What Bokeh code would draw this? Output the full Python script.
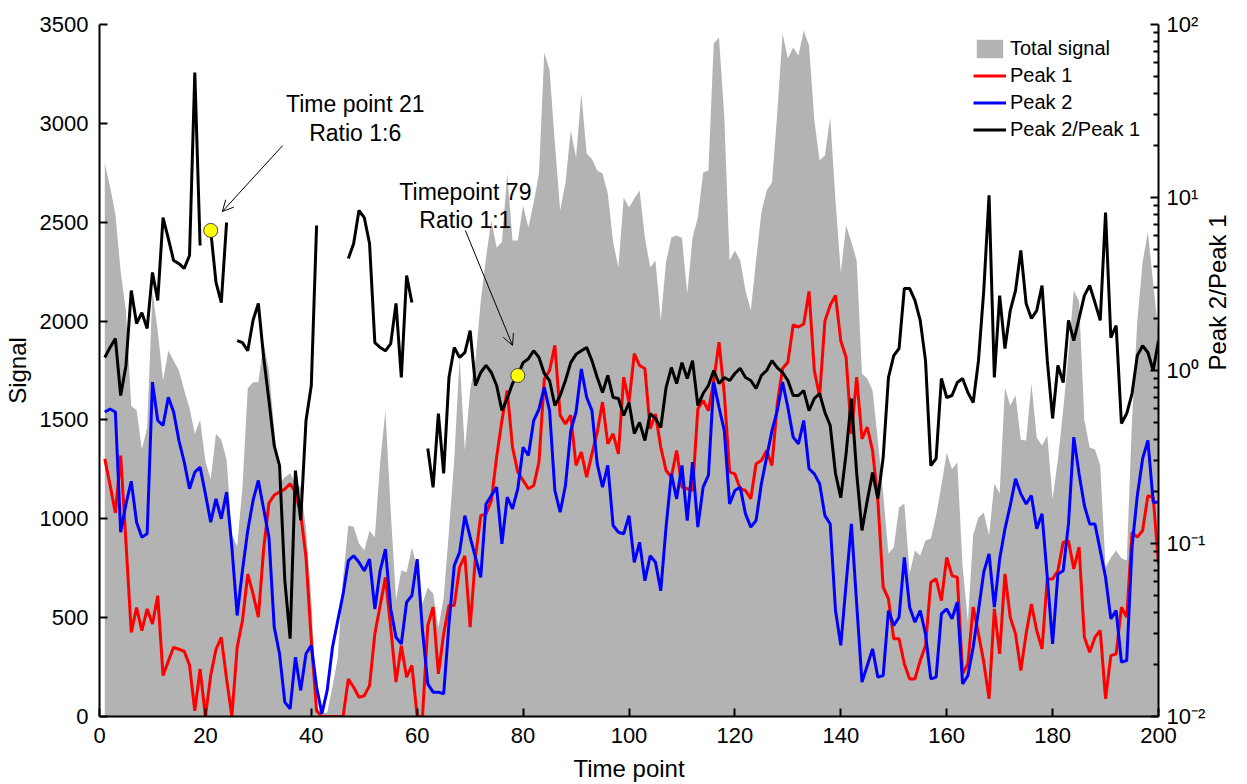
import math
from bokeh.plotting import figure
from bokeh.models import (Range1d, LogScale, LogAxis, Label, Arrow, OpenHead,
                          CustomJSTickFormatter, FixedTicker, ColumnDataSource)
from bokeh.embed import file_html
from bokeh.resources import INLINE

NaN = float("nan")

time_point = list(range(1, 201))

total_signal = [
    2800, 2680, 2540, 2250, 2050, 1570, 1550, 1350, 1460, 2150,
    1950, 1700, 1850, 1800, 1750, 1650, 1560, 1430, 1500, 1290,
    1200, 1430, 1400, 1300, 920, 860, 1160, 1660, 1690, 1690,
    1890, 1750, 1450, 1180, 1210, 1230, 1180, 1160, 950, 590,
    50, 15, 20, 150, 300, 700, 966, 960, 875, 840,
    940, 906, 1285, 1548, 1040, 590, 738, 730, 855, 754,
    570, 653, 622, 450, 600, 940, 1300, 1816, 1345, 1649,
    1800, 2100, 2322, 2509, 2372, 2400, 2746, 2408, 2408, 2585,
    2473, 2600, 2746, 3359, 3268, 2900, 2560, 2700, 2964, 2827,
    3151, 2847, 2820, 2762, 2746, 2645, 2400, 2271, 2625, 2575,
    2620, 2660, 2423, 2271, 2306, 2003, 2300, 2423, 2433, 2420,
    2140, 2423, 2524, 2752, 2762, 3404, 3434, 3030, 2306, 2357,
    2306, 2155, 2053, 2306, 2550, 2660, 2701, 3050, 3454, 3328,
    3384, 3343, 3470, 3394, 3015, 2812, 2837, 3030, 2610, 2246,
    2483, 2400, 2306, 1733, 1710, 1649, 1396, 1128, 824, 855,
    1057, 1077, 723, 840, 814, 890, 900, 1017, 1168, 1335,
    1250, 1285, 760, 480, 920, 1007, 1032, 915, 1178, 1128,
    1664, 1573, 1624, 1400, 1396, 1684, 1411, 1371, 1421, 1100,
    1300, 1550, 1836, 2155, 2100, 1500, 1360, 1350, 1270, 754,
    804, 840, 800, 789, 1500, 2000, 2300, 2450, 2190, 1937,
]

peak1 = [
    1303, 1170, 1030, 1320, 880, 425, 551, 434, 544, 468,
    611, 207, 280, 350, 340, 330, 260, 29, 240, 0,
    207, 340, 400, 190, 0, 350, 485, 720, 620, 502,
    846, 1080, 1120, 1135, 1150, 1177, 1135, 1025, 805, 384,
    29, 0, 0, 0, 0, 0, 190, 148, 97, 105,
    156, 418, 560, 704, 450, 174, 358, 199, 258, 0,
    0, 460, 553, 216, 418, 561, 561, 754, 813, 452,
    805, 1016, 1025, 1092, 1312, 1497, 1649, 1362, 1236, 1194,
    1152, 1168, 1287, 1707, 1750, 1877, 1523, 1480, 1523, 1270,
    1337, 1211, 1328, 1438, 1590, 1379, 1430, 1328, 1716, 1590,
    1835, 1775, 1760, 1455, 1530, 1362, 1244, 1211, 1345, 1160,
    1152, 1143, 1555, 1598, 1547, 1699, 1893, 1632, 1236, 1227,
    1152, 1143, 1101, 1278, 1295, 1345, 1270, 1581, 1760, 1792,
    1980, 1970, 1985, 2150, 1750, 1620, 2000, 2080, 2130, 1900,
    1817, 1430, 1716, 1404, 1463, 1345, 1092, 654, 595, 393,
    393, 266, 190, 190, 283, 358, 679, 696, 586, 805,
    713, 704, 216, 266, 553, 418, 275, 90, 544, 317,
    721, 502, 418, 233, 418, 569, 435, 342, 696, 696,
    737, 881, 889, 746, 857, 401, 325, 401, 435, 90,
    308, 317, 553, 502, 932, 907, 941, 1117, 1109, 771,
]

peak2 = [
    1540, 1555, 1540, 932, 1075, 1190, 983, 907, 924, 1691,
    1497, 1472, 1615, 1540, 1396, 1287, 1152, 1236, 1261, 1126,
    983, 1101, 1000, 1135, 857, 511, 739, 941, 1093, 1194,
    1050, 907, 452, 317, 73, 39, 300, 132, 317, 360,
    149, 14, 132, 350, 485, 619, 788, 813, 780, 737,
    796, 544, 737, 847, 544, 401, 367, 578, 612, 796,
    435, 165, 123, 123, 115, 469, 763, 830, 1016, 907,
    805, 704, 1075, 1117, 1160, 873, 1109, 1050, 1152, 1362,
    1320, 1497, 1555, 1665, 1547, 1143, 1033, 1168, 1446, 1540,
    1758, 1615, 1547, 1278, 1160, 1270, 966, 932, 924, 1016,
    780, 881, 687, 813, 780, 636, 958, 1227, 1101, 1270,
    991, 1287, 958, 1160, 1219, 1691, 1564, 1446, 1075, 1143,
    1160, 1025, 958, 991, 1177, 1312, 1446, 1547, 1691, 1564,
    1413, 1379, 1497, 1253, 1227, 1177, 1016, 974, 536, 360,
    670, 974, 569, 174, 258, 342, 199, 207, 536, 460,
    502, 805, 553, 477, 536, 418, 190, 199, 519, 544,
    494, 578, 165, 207, 350, 536, 730, 822, 553, 796,
    949, 1067, 1202, 1126, 1075, 1117, 949, 1025, 704, 367,
    721, 737, 974, 1413, 1227, 1067, 974, 974, 839, 704,
    494, 536, 275, 283, 857, 1117, 1304, 1396, 1084, 1084,
]

ratio = [
    1.19, 1.36, 1.53, 0.717, 1.07, 2.90, 1.87, 2.16, 1.75, 3.69,
    2.54, 7.66, 5.79, 4.32, 4.15, 3.89, 4.62, 52.8, 5.28, NaN,
    6.45, 3.23, 2.47, 7.17, NaN, 1.49, 1.45, 1.30, 1.95, 2.44,
    1.19, 0.671, 0.368, 0.282, 0.0611, 0.0282, 0.264, 0.136, 0.514, 0.819,
    6.89, NaN, NaN, NaN, NaN, NaN, 4.44, 5.42, 8.41, 7.66,
    5.42, 1.45, 1.36, 1.30, 1.43, 2.44, 0.911, 3.54, 2.47, NaN,
    NaN, 0.354, 0.211, 0.564, 0.254, 0.911, 1.36, 1.19, 1.27, 1.70,
    0.819, 0.974, 1.07, 0.974, 0.819, 0.587, 0.689, 0.841, 0.936, 1.11,
    1.17, 1.30, 1.19, 0.961, 0.875, 0.628, 0.717, 0.875, 1.11, 1.24,
    1.30, 1.36, 1.14, 0.911, 0.746, 0.936, 0.698, 0.689, 0.549, 0.653,
    0.432, 0.501, 0.394, 0.564, 0.528, 0.468, 0.797, 1.04, 0.841, 1.11,
    0.899, 1.14, 0.628, 0.736, 0.819, 1.00, 0.841, 0.911, 0.875, 0.961,
    1.03, 0.911, 0.875, 0.787, 0.936, 1.00, 1.14, 1.04, 0.974, 0.875,
    0.717, 0.717, 0.766, 0.587, 0.689, 0.736, 0.572, 0.481, 0.254, 0.184,
    0.331, 0.689, 0.254, 0.119, 0.177, 0.257, 0.182, 0.314, 0.911, 1.22,
    1.34, 2.98, 2.98, 2.54, 1.95, 1.14, 0.282, 0.310, 0.899, 0.698,
    0.717, 0.852, 0.899, 0.746, 0.653, 1.14, 2.90, 10.3, 0.911, 2.71,
    1.34, 2.22, 2.90, 4.94, 2.44, 2.00, 2.22, 3.10, 1.14, 0.528,
    1.07, 0.852, 1.95, 1.49, 2.00, 2.71, 3.10, 2.47, 1.95, 8.19,
    1.55, 1.82, 0.494, 0.564, 0.736, 1.22, 1.39, 1.27, 1.00, 1.49,
]

signal_ticks = [0, 500, 1000, 1500, 2000, 2500, 3000, 3500]
time_ticks = [0, 20, 40, 60, 80, 100, 120, 140, 160, 180, 200]
ratio_ticks = [0.01, 0.1, 1, 10, 100]

highlight_points = [21, 79]
annot1 = ["Time point 21", "Ratio 1:6"]
annot2 = ["Timepoint 79", "Ratio 1:1"]

FONT = "Liberation Sans"

src = ColumnDataSource(dict(t=time_point, total=total_signal, p1=peak1,
                            p2=peak2, r=ratio))

p = figure(width=1247, height=784, x_range=Range1d(0, 200),
           y_range=Range1d(0, 3500), output_backend="svg",
           toolbar_location=None, min_border_left=99, min_border_right=89,
           min_border_top=24, min_border_bottom=68)
p.outline_line_color = None
p.grid.visible = False
p.background_fill_color = "white"

p.extra_y_ranges = {"ratio": Range1d(0.01, 100)}
p.extra_y_scales = {"ratio": LogScale()}

p.varea(x="t", y1=0, y2="total", source=src, fill_color="#b3b3b3",
        legend_label="Total signal")
p.line(x="t", y="p1", source=src, line_color="#ff0000", line_width=3,
       legend_label="Peak 1")
p.line(x="t", y="p2", source=src, line_color="#0000ff", line_width=3,
       legend_label="Peak 2")
p.line(x="t", y="r", source=src, line_color="#000000", line_width=3,
       y_range_name="ratio", legend_label="Peak 2/Peak 1")

hx = highlight_points
hy = [ratio[time_point.index(v)] for v in hx]
p.scatter(x=hx, y=hy, y_range_name="ratio", size=14, fill_color="#ffff00",
          line_color="#444444", line_width=1)


def style_axis(ax):
    ax.axis_line_width = 2
    ax.axis_line_color = "black"
    ax.major_tick_line_width = 2
    ax.major_tick_line_color = "black"
    ax.major_tick_in = 8
    ax.major_tick_out = 0
    ax.minor_tick_in = 0
    ax.minor_tick_out = 0
    ax.major_label_text_font = FONT
    ax.major_label_text_font_size = "22px"
    ax.major_label_text_color = "black"
    ax.axis_label_text_font = FONT
    ax.axis_label_text_font_size = "24px"
    ax.axis_label_text_font_style = "normal"
    ax.axis_label_text_color = "black"


xa = p.xaxis[0]
style_axis(xa)
xa.ticker = FixedTicker(ticks=time_ticks)
xa.axis_label = "Time point"
xa.major_label_standoff = 11
xa.axis_label_standoff = 9

ya = p.yaxis[0]
style_axis(ya)
ya.ticker = FixedTicker(ticks=signal_ticks)
ya.axis_label = "Signal"
ya.major_label_standoff = 11
ya.axis_label_standoff = 6

minor = []
for k in range(-2, 2):
    for m in range(2, 10):
        minor.append(m * 10.0 ** k)

ra = LogAxis(y_range_name="ratio",
             ticker=FixedTicker(ticks=ratio_ticks, minor_ticks=minor),
             formatter=CustomJSTickFormatter(code="""
const e = Math.round(Math.log10(tick));
const sup = {"-": "\\u207b", "0": "\\u2070", "1": "\\u00b9", "2": "\\u00b2", "3": "\\u00b3"};
return "10" + String(e).split("").map(c => sup[c]).join("");
"""))
style_axis(ra)
ra.minor_tick_in = 5
ra.minor_tick_line_width = 2
ra.minor_tick_line_color = "black"
ra.major_label_standoff = 8
ra.axis_label = "Peak 2/Peak 1"
ra.axis_label_standoff = 9
try:
    ra.axis_label_orientation = math.pi / 2
except Exception:
    pass
p.add_layout(ra, "right")

# annotations
for txt, yv in zip(annot1, [3100, 2949]):
    p.add_layout(Label(x=48.3, y=yv, text=txt, text_align="center",
                       text_baseline="middle", text_font=FONT,
                       text_font_size="23px", text_color="black"))
for txt, yv in zip(annot2, [2655, 2509]):
    p.add_layout(Label(x=69.1, y=yv, text=txt, text_align="center",
                       text_baseline="middle", text_font=FONT,
                       text_font_size="23px", text_color="black"))

p.add_layout(Arrow(end=OpenHead(size=11, line_width=1), x_start=34.6,
                   y_start=2888, x_end=23.2, y_end=2554, line_width=1))
p.add_layout(Arrow(end=OpenHead(size=11, line_width=1), x_start=69.1,
                   y_start=2458, x_end=78.0, y_end=1877, line_width=1))

lg = p.legend[0]
lg.location = (874, 575)
lg.border_line_color = None
lg.background_fill_alpha = 0
lg.label_text_font = FONT
lg.label_text_font_size = "20px"
lg.label_text_color = "black"
lg.glyph_width = 33
lg.glyph_height = 23
lg.label_height = 23
lg.label_standoff = 4
lg.spacing = 4
lg.padding = 0
lg.margin = 0

open("out.html", "w").write(file_html(p, INLINE))
